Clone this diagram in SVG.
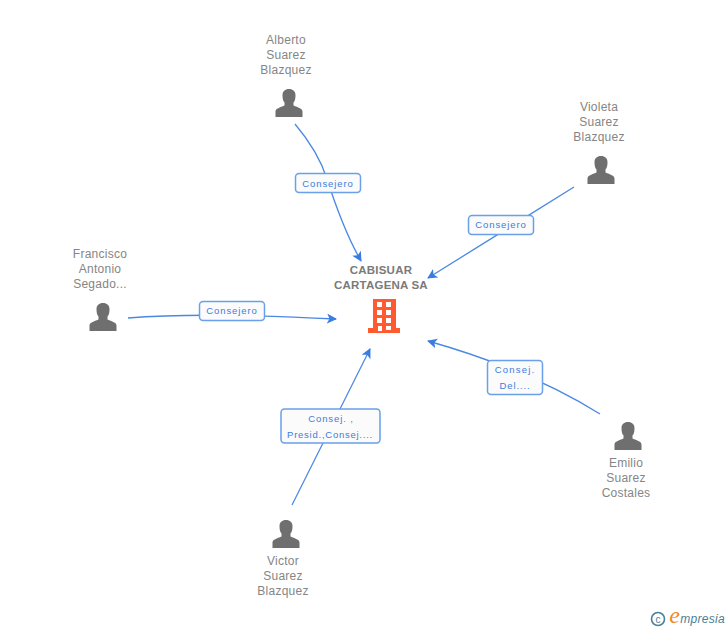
<svg xmlns="http://www.w3.org/2000/svg" width="728" height="630" viewBox="0 0 728 630">
<style>
text{font-family:"Liberation Sans",Arial,sans-serif;text-anchor:middle}
.n{font-size:12px;fill:#858585;letter-spacing:.25px}
.c{font-size:11.500px;font-weight:bold;fill:#7a7a7a;letter-spacing:.2px}
.l{font-size:9.500px;fill:#3a7de0;letter-spacing:.9px}
.e{fill:none;stroke:#4a88e4;stroke-width:1.300;marker-end:url(#a)}
.b{fill:#fbfbfb;stroke:#6a9fea;stroke-width:1.500}
.p{fill:#6f6f6f}
</style>
<defs>
<marker id="a" markerWidth="11" markerHeight="10" refX="9" refY="5" orient="auto" markerUnits="userSpaceOnUse"><path d="M0 0L10 5L0 10L2.500 5Z" fill="#3a7de0"/></marker>
<path id="u" d="M-13.500 14V8.500C-13.500 5.500-9 4.500-4.500 2.500V-.5C-6-2-6.500-4.500-6.500-8C-6.500-11.500-4-14 0-14C4-14 6.500-11.500 6.500-8C6.500-4.500 6-2 4.500-.5V2.500C9 4.500 13.500 5.500 13.500 8.500V14Z"/>
</defs>
<g id="connectors">
<path class="e" d="M295 124C311 143 321 160 327 179C337 210 349 240 361 261"/>
<path class="e" d="M574 187L428 278"/>
<path class="e" d="M128 318Q200 312 336 319"/>
<path class="e" d="M600 414Q530 370 428 341"/>
<path class="e" d="M292 505L370 349"/>
</g>
<g id="center"><text class="c" x="381" y="274">CABISUAR</text><text class="c" x="381" y="289">CARTAGENA SA</text>
<path fill="#ff5a30" fill-rule="evenodd" d="M373 299H396V328H400V333H368V328H373ZM377 302V307H382V302ZM386 302V307H391V302ZM377 310V315H382V310ZM386 310V315H391V310ZM377 318V323H382V318ZM386 318V323H391V318ZM378 326V331H382V326ZM386 326V330H391V326Z"/></g>
<g id="alberto"><text class="n" x="286" y="44">Alberto</text><text class="n" x="286" y="59">Suarez</text><text class="n" x="286" y="74">Blazquez</text><use href="#u" class="p" x="289" y="103"/></g>
<g id="violeta"><text class="n" x="599" y="111">Violeta</text><text class="n" x="599" y="126">Suarez</text><text class="n" x="599" y="141">Blazquez</text><use href="#u" class="p" x="601" y="170"/></g>
<g id="francisco"><text class="n" x="100" y="258">Francisco</text><text class="n" x="100" y="273">Antonio</text><text class="n" x="100" y="288">Segado...</text><use href="#u" class="p" x="103" y="317"/></g>
<g id="emilio"><text class="n" x="626" y="467">Emilio</text><text class="n" x="626" y="482">Suarez</text><text class="n" x="626" y="497">Costales</text><use href="#u" class="p" x="628" y="436"/></g>
<g id="victor"><text class="n" x="283" y="565">Victor</text><text class="n" x="283" y="580">Suarez</text><text class="n" x="283" y="595">Blazquez</text><use href="#u" class="p" x="286" y="534"/></g>
<g id="label1"><rect class="b" x="295.500" y="173.500" width="65" height="19" rx="3.500"/><text class="l" x="328" y="187">Consejero</text></g>
<g id="label2"><rect class="b" x="468.500" y="215.500" width="65" height="19" rx="3.500"/><text class="l" x="501" y="228">Consejero</text></g>
<g id="label3"><rect class="b" x="199.500" y="301.500" width="65" height="19" rx="3.500"/><text class="l" x="232" y="314">Consejero</text></g>
<g id="label4"><rect class="b" x="487.500" y="360.500" width="55" height="34" rx="3.500"/><text class="l" x="515" y="373" style="letter-spacing:1.200px">Consej.</text><text class="l" x="515" y="389">Del....</text></g>
<g id="label5"><rect class="b" x="281" y="409" width="99" height="34" rx="3.500"/><text class="l" x="331" y="422">Consej. ,</text><text class="l" x="330" y="438" style="letter-spacing:.75px">Presid.,Consej....</text></g>
<g id="logo"><circle cx="658" cy="619" r="6.500" fill="none" stroke="#4a8098" stroke-width="1.600"/><text x="658" y="622.500" style="font-size:10px;fill:#4a8098">c</text>
<text x="725" y="623" style="font-size:12px;font-style:italic;fill:#4a8098;text-anchor:end;letter-spacing:.3px"><tspan style="font-size:24px;fill:#f08a1d;font-family:'Liberation Serif',serif">e</tspan>mpresia</text></g>
</svg>
